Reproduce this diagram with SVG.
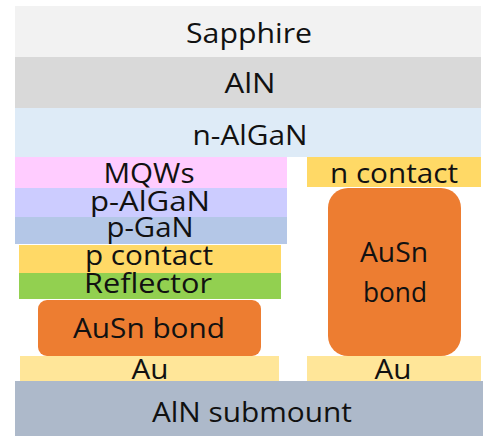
<svg xmlns="http://www.w3.org/2000/svg" width="484" height="436" viewBox="0 0 484 436">
<style>
text{font-family:"Open Sans","Liberation Sans",sans-serif;font-size:28px;fill:#111;text-anchor:middle}
</style>
<rect width="484" height="436" fill="#ffffff"/>
<g id="sapphire"><rect x="15" y="6" width="466" height="51" fill="#F2F2F2"/><text x="249" y="43" textLength="126" lengthAdjust="spacingAndGlyphs">Sapphire</text></g>
<g id="aln"><rect x="15" y="57" width="466" height="51" fill="#D9D9D9"/><text x="250" y="93" textLength="51" lengthAdjust="spacingAndGlyphs">AlN</text></g>
<g id="n-algan"><rect x="15" y="108" width="466" height="49" fill="#DEEBF7"/><text x="250" y="145" textLength="115" lengthAdjust="spacingAndGlyphs">n-AlGaN</text></g>
<g id="mqws"><rect x="15" y="157" width="272" height="31" fill="#FFCCFF"/><text x="149" y="183" textLength="91" lengthAdjust="spacingAndGlyphs">MQWs</text></g>
<g id="p-algan"><rect x="15" y="188" width="272" height="29" fill="#CCCCFF"/><text x="150" y="211" textLength="120" lengthAdjust="spacingAndGlyphs">p-AlGaN</text></g>
<g id="p-gan"><rect x="15" y="217" width="272" height="27" fill="#B4C7E7"/><text x="150" y="237" textLength="87" lengthAdjust="spacingAndGlyphs">p-GaN</text></g>
<g id="p-contact"><rect x="19" y="245" width="262" height="28" fill="#FFD966"/><text x="149" y="265" textLength="128" lengthAdjust="spacingAndGlyphs">p contact</text></g>
<g id="reflector"><rect x="19" y="273" width="262" height="26" fill="#92D050"/><text x="148" y="293" textLength="128" lengthAdjust="spacingAndGlyphs">Reflector</text></g>
<g id="ausn-left"><rect x="38" y="300" width="223" height="56" rx="9" fill="#ED7D31"/><text x="149" y="338" textLength="152" lengthAdjust="spacingAndGlyphs">AuSn bond</text></g>
<g id="au-left"><rect x="20" y="356" width="259" height="26" fill="#FFE699"/><text x="150" y="379" textLength="37" lengthAdjust="spacingAndGlyphs">Au</text></g>
<g id="n-contact"><rect x="307" y="157" width="174" height="30" fill="#FFD966"/><text x="394" y="183" textLength="128" lengthAdjust="spacingAndGlyphs">n contact</text></g>
<g id="ausn-right"><rect x="328" y="188" width="133" height="168" rx="20" fill="#ED7D31"/><text x="394" y="262" textLength="68" lengthAdjust="spacingAndGlyphs">AuSn</text><text x="395" y="302" textLength="64" lengthAdjust="spacingAndGlyphs">bond</text></g>
<g id="au-right"><rect x="307" y="356" width="174" height="26" fill="#FFE699"/><text x="393" y="379" textLength="37" lengthAdjust="spacingAndGlyphs">Au</text></g>
<g id="aln-submount"><rect x="15" y="381" width="468" height="55" fill="#ADB9CA"/><text x="252" y="422" textLength="200" lengthAdjust="spacingAndGlyphs">AlN submount</text></g>
<g id="connectors"></g>
</svg>
